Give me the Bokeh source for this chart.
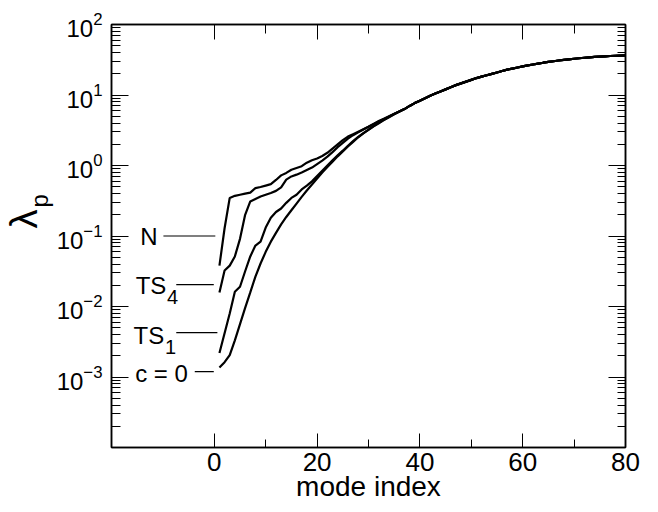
from bokeh.plotting import figure
from bokeh.models import (Range1d, LinearAxis, LogAxis, FixedTicker, Label, Title,
                          CustomJSTickFormatter, LogTickFormatter)
from bokeh.embed import file_html
from bokeh.resources import INLINE

FONT = "Liberation Sans"

# mode index 1..80
mode_index = list(range(1, 81))

# log10(lambda_p), modes 1..35 per curve
log_N = [-1.42, -0.89, -0.46, -0.43, -0.415, -0.40, -0.385, -0.32, -0.305, -0.285,
         -0.265, -0.205, -0.14, -0.105, -0.06, -0.035, -0.01, 0.04, 0.075, 0.10,
         0.135, 0.18, 0.24, 0.30, 0.36, 0.41, 0.445, 0.48, 0.515, 0.55,
         0.59, 0.625, 0.66, 0.695, 0.73]
log_TS4 = [-1.80, -1.49, -1.42, -1.29, -1.04, -0.70, -0.51, -0.475, -0.44, -0.415,
           -0.39, -0.36, -0.31, -0.20, -0.155, -0.13, -0.10, -0.065, -0.03, 0.02,
           0.07, 0.125, 0.19, 0.26, 0.32, 0.38, 0.43, 0.47, 0.51, 0.55,
           0.59, 0.63, 0.665, 0.70, 0.735]
log_TS1 = [-2.66, -2.38, -2.10, -1.79, -1.72, -1.50, -1.29, -1.135, -1.08, -0.88,
           -0.74, -0.66, -0.61, -0.53, -0.46, -0.415, -0.34, -0.285, -0.225, -0.15,
           -0.075, 0.0, 0.075, 0.145, 0.21, 0.28, 0.345, 0.405, 0.46, 0.51,
           0.56, 0.605, 0.65, 0.69, 0.73]
log_c0 = [-2.865, -2.79, -2.69, -2.48, -2.25, -2.02, -1.80, -1.575, -1.39, -1.225,
          -1.08, -0.955, -0.835, -0.73, -0.635, -0.54, -0.445, -0.355, -0.27, -0.185,
          -0.10, -0.02, 0.055, 0.13, 0.20, 0.27, 0.335, 0.40, 0.455, 0.505,
          0.555, 0.60, 0.645, 0.685, 0.725]
# modes 36..80, where all four curves coincide
log_tail = [0.765, 0.80, 0.845, 0.885, 0.92, 0.955, 0.99, 1.02, 1.05, 1.08,
            1.11, 1.14, 1.165, 1.19, 1.215, 1.24, 1.26, 1.28, 1.30, 1.32,
            1.34, 1.36, 1.375, 1.39, 1.405, 1.42, 1.433, 1.446, 1.458, 1.469,
            1.479, 1.489, 1.498, 1.506, 1.514, 1.521, 1.528, 1.534, 1.54, 1.545,
            1.549, 1.553, 1.556, 1.559, 1.562]

series_logs = [log_N, log_TS4, log_TS1, log_c0]

# curve annotations
ann_base = ["N", "TS", "TS", "c = 0"]
ann_sub = ["", "4", "1", ""]
ann_text_y = [0.099, 0.0196, 0.00385, 0.00111]
ann_line_y = [0.1, 0.0204, 0.00425, 0.00119]
ann_line_x0 = [-9.9, -7.4, -7.4, -3.8]
ann_line_x1 = [0.2, -0.1, 0.6, -0.1]
ann_text_x = [-14.4, -15.3, -15.7, -15.4]
ann_sub_x = [0, -9.2, -9.6, 0]

x_ticks = [0, 20, 40, 60, 80]
x_minor = [10, 30, 50, 70]
y_ticks_all = [1e-4, 1e-3, 1e-2, 1e-1, 1e0, 1e1, 1e2]
y_ticks_labeled = [1e-3, 1e-2, 1e-1, 1e0, 1e1, 1e2]
y_minor = [m * 10.0 ** e for e in range(-4, 2) for m in range(2, 10)]

p = figure(width=658, height=512, output_backend="svg", toolbar_location=None,
           x_range=Range1d(-20, 80), y_range=Range1d(1e-4, 1e2),
           y_axis_type="log", x_axis_location=None, y_axis_location=None,
           min_border_left=111, min_border_right=33, min_border_top=24,
           min_border_bottom=65)
p.grid.visible = False
p.outline_line_color = "black"
p.outline_line_width = 1.5
p.background_fill_color = "white"
p.border_fill_color = "white"

xt = FixedTicker(ticks=x_ticks, minor_ticks=x_minor)


def style(ax, major_in, minor_in, labels):
    ax.axis_line_color = "black"
    ax.axis_line_width = 1.5
    ax.major_tick_in = major_in
    ax.major_tick_out = 0
    ax.minor_tick_in = minor_in
    ax.minor_tick_out = 0
    ax.major_tick_line_color = "black"
    ax.minor_tick_line_color = "black"
    ax.major_tick_line_width = 1
    ax.minor_tick_line_width = 1
    if not labels:
        ax.formatter = CustomJSTickFormatter(code="return '';")
        ax.major_label_standoff = 0


bottom = LinearAxis(ticker=xt)
style(bottom, 14, 8, True)
bottom.major_label_text_font = FONT
bottom.major_label_text_font_size = "26px"
bottom.major_label_text_color = "black"
bottom.major_label_standoff = 5
bottom.axis_label = "mode index"
bottom.axis_label_text_font = FONT
bottom.axis_label_text_font_size = "28px"
bottom.axis_label_text_font_style = "normal"
bottom.axis_label_text_color = "black"
bottom.axis_label_standoff = -3
p.add_layout(bottom, "below")

top = LinearAxis(ticker=xt)
style(top, 15, 9, False)
p.add_layout(top, "above")

left = LogAxis(ticker=FixedTicker(ticks=y_ticks_labeled, minor_ticks=y_minor),
               formatter=LogTickFormatter())
style(left, 17, 9, True)
left.major_label_text_font = FONT
left.major_label_text_font_size = "24px"
left.major_label_text_color = "black"
left.major_label_standoff = 9
p.add_layout(left, "left")

# y-axis title: lambda with subscript p (subscript sits nearer the axis)
p.add_layout(Title(text="p", text_font=FONT, text_font_size="24px",
                   text_font_style="normal", text_color="black", align="left",
                   offset=240, standoff=1), "left")
p.add_layout(Title(text="λ", text_font=FONT, text_font_size="38px",
                   text_font_style="normal", text_color="black", align="left",
                   offset=219, standoff=-43), "left")

right = LogAxis(ticker=FixedTicker(ticks=y_ticks_all, minor_ticks=y_minor))
style(right, 17, 8, False)
p.add_layout(right, "right")

# curves
for logs in series_logs:
    full = logs + log_tail
    p.line(mode_index, [10.0 ** v for v in full], line_color="black", line_width=2.2)

# annotation leader lines and labels
p.segment(x0=ann_line_x0, y0=ann_line_y, x1=ann_line_x1, y1=ann_line_y,
          line_color="black", line_width=1.2)
for base, sub, tx, ty, sx in zip(ann_base, ann_sub, ann_text_x, ann_text_y, ann_sub_x):
    p.add_layout(Label(x=tx, y=ty, text=base, text_font=FONT, text_font_size="24px",
                       text_align="left", text_baseline="middle", text_color="black"))
    if sub:
        p.add_layout(Label(x=sx, y=ty, y_offset=-11, text=sub, text_font=FONT,
                           text_font_size="20px", text_align="left",
                           text_baseline="middle", text_color="black"))

open("out.html", "w").write(file_html(p, INLINE))
